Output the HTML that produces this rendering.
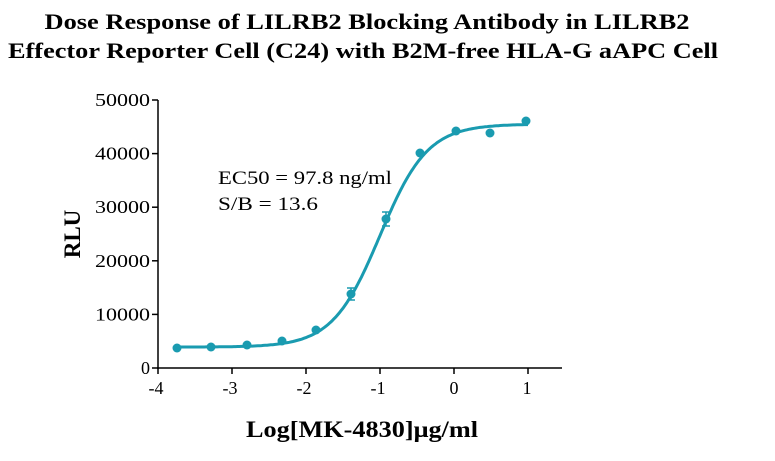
<!DOCTYPE html>
<html><head><meta charset="utf-8"><style>
body{margin:0;background:#fff;}
svg text{font-family:"Liberation Serif",serif;}
</style></head><body>
<svg id="s" width="775" height="456" viewBox="0 0 775 456" xmlns="http://www.w3.org/2000/svg">
<text x="367" y="29" font-size="22" font-weight="bold" text-anchor="middle" textLength="645" lengthAdjust="spacingAndGlyphs">Dose Response of LILRB2 Blocking Antibody in LILRB2</text>
<text x="363" y="58" font-size="22" font-weight="bold" text-anchor="middle" textLength="710" lengthAdjust="spacingAndGlyphs">Effector Reporter Cell (C24) with B2M-free HLA-G aAPC Cell</text>
<g stroke="#000" stroke-width="1.5" fill="none">
<line x1="158" y1="100" x2="158" y2="369"/>
<line x1="157" y1="368" x2="562" y2="368"/>
<line x1="152" y1="100" x2="158" y2="100"/>
<line x1="152" y1="153.6" x2="158" y2="153.6"/>
<line x1="152" y1="207.2" x2="158" y2="207.2"/>
<line x1="152" y1="260.8" x2="158" y2="260.8"/>
<line x1="152" y1="314.4" x2="158" y2="314.4"/>
<line x1="152" y1="368" x2="158" y2="368"/>
<line x1="158" y1="368" x2="158" y2="374"/>
<line x1="232" y1="368" x2="232" y2="374"/>
<line x1="306" y1="368" x2="306" y2="374"/>
<line x1="380" y1="368" x2="380" y2="374"/>
<line x1="454" y1="368" x2="454" y2="374"/>
<line x1="528" y1="368" x2="528" y2="374"/>
</g>
<g font-size="18" text-anchor="end">
<text x="150" y="106" textLength="55" lengthAdjust="spacingAndGlyphs">50000</text><text x="150" y="159.6" textLength="55" lengthAdjust="spacingAndGlyphs">40000</text><text x="150" y="213.2" textLength="55" lengthAdjust="spacingAndGlyphs">30000</text>
<text x="150" y="266.8" textLength="55" lengthAdjust="spacingAndGlyphs">20000</text><text x="150" y="320.4" textLength="55" lengthAdjust="spacingAndGlyphs">10000</text><text x="150" y="374">0</text>
</g>
<g font-size="18" text-anchor="middle">
<text x="156" y="394">-4</text><text x="230" y="394">-3</text><text x="304" y="394">-2</text>
<text x="378" y="394">-1</text><text x="454" y="394">0</text><text x="527" y="394">1</text>
</g>
<text x="362" y="437" font-size="23" font-weight="bold" text-anchor="middle" textLength="232" lengthAdjust="spacingAndGlyphs">Log[MK-4830]μg/ml</text>
<text transform="translate(80,234) rotate(-90)" font-size="23" font-weight="bold" text-anchor="middle">RLU</text>
<text x="218" y="184" font-size="19" textLength="174" lengthAdjust="spacingAndGlyphs">EC50 = 97.8 ng/ml</text>
<text x="218" y="210" font-size="19" textLength="100" lengthAdjust="spacingAndGlyphs">S/B = 13.6</text>
<path id="c" fill="none" stroke="#1a9bb0" stroke-width="3"/>
<g id="d" fill="#1a9bb0"></g>
</svg>
<script>
var X=function(l){return 158+(l+4)*74},Y=function(v){return 368-v*268/50000};
var b=3900,t=45500,e=-1.0,h=1.35,p="";
for(var l=-3.75;l<=1.0001;l+=0.025){var v=b+(t-b)/(1+Math.pow(10,(e-l)*h));p+=(p?"L":"M")+X(l).toFixed(1)+","+Y(v).toFixed(1);}
document.getElementById("c").setAttribute("d",p);
var px=[177,211,247,282,316,351,386,420,456,490,526],py=[348,347,345,341,330,294,219,153,131,133,121];
var g=document.getElementById("d"),ns="http://www.w3.org/2000/svg";
for(var i=0;i<px.length;i++){var c=document.createElementNS(ns,"circle");c.setAttribute("cx",px[i]);c.setAttribute("cy",py[i]);c.setAttribute("r",4.5);g.appendChild(c);}
var eb=[[351,288,300],[386,212,226]];
for(var j=0;j<eb.length;j++){var L=document.createElementNS(ns,"path");var x=eb[j][0];L.setAttribute("d","M"+x+","+eb[j][1]+"V"+eb[j][2]+"M"+(x-4)+","+eb[j][1]+"H"+(x+4)+"M"+(x-4)+","+eb[j][2]+"H"+(x+4));L.setAttribute("stroke","#1a9bb0");L.setAttribute("stroke-width","1.5");g.appendChild(L);}
</script>
</body></html>
